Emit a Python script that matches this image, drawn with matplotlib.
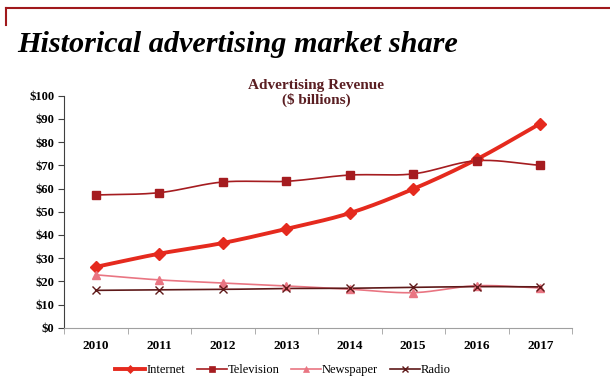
import numpy as np
import matplotlib
matplotlib.use("Agg")
import matplotlib.pyplot as plt
from matplotlib.lines import Line2D

years = ["2010", "2011", "2012", "2013", "2014", "2015", "2016", "2017"]
internet = [26.2, 31.9, 36.5, 42.6, 49.4, 59.8, 72.6, 88.0]
television = [57.2, 58.2, 62.8, 63.1, 65.8, 66.3, 72.0, 70.0]
newspaper = [22.8, 20.6, 19.3, 18.0, 16.6, 15.1, 18.1, 17.1]
radio = [16.1, 16.3, 16.5, 16.9, 17.0, 17.4, 17.7, 17.6]
yticks = list(range(0, 101, 10))
ylabels = ["$%d" % v for v in yticks]

def smooth(x, y, n=20):
    x = np.asarray(x, float); y = np.asarray(y, float)
    px = np.concatenate([[2*x[0]-x[1]], x, [2*x[-1]-x[-2]]])
    py = np.concatenate([[2*y[0]-y[1]], y, [2*y[-1]-y[-2]]])
    xs, ys = [], []
    for i in range(1, len(px)-2):
        p0, p1, p2, p3 = [np.array([px[j], py[j]]) for j in (i-1, i, i+1, i+2)]
        c1 = p1 + (p2 - p0) / 6.0
        c2 = p2 - (p3 - p1) / 6.0
        t = np.linspace(0, 1, n)[:, None]
        b = (1-t)**3*p1 + 3*(1-t)**2*t*c1 + 3*(1-t)*t**2*c2 + t**3*p2
        xs.extend(b[:, 0]); ys.extend(b[:, 1])
    return np.array(xs), np.array(ys)

plt.rcParams['font.family'] = ['Liberation Serif', 'DejaVu Serif']

fig = plt.figure(figsize=(6.1, 3.9), dpi=100)
# decorative frame
fig.add_artist(Line2D([6/610, 1.0], [1-8/390, 1-8/390], color="#A0191C", lw=1.5))
fig.add_artist(Line2D([6/610, 6/610], [1-8/390, 1-25/390], color="#A0191C", lw=1.5))
fig.text(17/610, 1-44/390, "Historical advertising market share", fontsize=21.8,
         fontweight="bold", fontstyle="italic", va="center", ha="left", color="black")
fig.text(316/610, 1-93/390, "Advertising Revenue\n($ billions)", fontsize=11,
         fontweight="bold", color="#5A1E22", ha="center", va="center", linespacing=1.0)

ax = fig.add_axes([64/610, 1-327.7/390, 508/610, 232/390])
x = np.arange(len(years))

series = [
    ("Internet", internet, "#E52A1E", "D", 6, 2.8),
    ("Television", television, "#A51C20", "s", 6, 1.2),
    ("Newspaper", newspaper, "#E97582", "^", 6, 1.2),
    ("Radio", radio, "#5E1919", "x", 6, 1.2),
]
handles = []
for name, vals, col, mk, ms, lw in series:
    sx, sy = smooth(x, vals)
    ax.plot(sx, sy, color=col, lw=lw, zorder=3)
    if mk == "x":
        ax.plot(x, vals, ls="none", marker=mk, ms=ms, mec=col, mew=1.0, zorder=4)
    else:
        ax.plot(x, vals, ls="none", marker=mk, ms=ms, color=col, mec=col, zorder=4)
    handles.append(Line2D([], [], color=col, lw=lw, marker=mk, ms=ms*0.7,
                          mec=col, mew=1.0 if mk == "x" else 0.5))

ax.set_xlim(-0.5, len(years)-0.5)
ax.set_ylim(0, 100)
ax.set_yticks(yticks)
ax.set_yticklabels(ylabels, fontsize=9, fontweight="bold")
ax.set_xticks(x)
ax.set_xticklabels(years, fontsize=9.5, fontweight="bold")
ax.set_xticks(np.arange(-0.5, len(years), 1.0), minor=True)
ax.tick_params(axis="x", which="major", length=0, pad=9)
ax.tick_params(axis="x", which="minor", length=4, color="#A0A0A0")
ax.tick_params(axis="y", length=4, color="#404040", pad=3)
for s in ("top", "right"):
    ax.spines[s].set_visible(False)
ax.spines["left"].set_color("#404040")
ax.spines["bottom"].set_color("#A0A0A0")

fig.legend(handles, [s[0] for s in series], loc="center", bbox_to_anchor=(283/610, 20/390),
           ncol=4, frameon=False, fontsize=9, handlelength=2.4, handletextpad=0.1,
           columnspacing=0.9)

fig.savefig("out.png", dpi=100)
